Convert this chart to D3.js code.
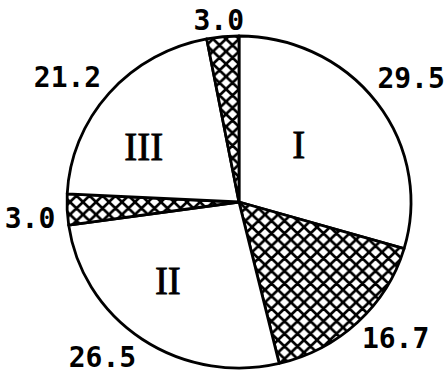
<!DOCTYPE html>
<html>
<head>
<meta charset="utf-8">
<script src="https://cdn.jsdelivr.net/npm/d3@7"></script>
<style>
  html, body { margin: 0; padding: 0; background: #fff; }
  svg { display: block; }
</style>
</head>
<body>
<div id="chart"></div>
<script>
// slice values, clockwise from 12 o'clock
const values = [29.5, 16.7, 26.5, 3.0, 21.2, 3.0];
const valueLabels = ['29.5', '16.7', '26.5', '3.0', '21.2', '3.0'];
const hatched = [false, true, false, true, false, true];
const romans = ['I', '', 'II', '', 'III', ''];

(function () {
  const W = 448, H = 374;
  const cx = 239, cy = 202, rx = 172, ry = 166;

  // hand nudges for the text, the original was laid out by eye
  const numNudge = [[2, -14], [10, 4], [-17, 4], [-5, 8], [-11, -5], [-1, 0]];
  const romNudge = [[-20, 1], [0, 0], [-15, -1], [0, 0], [-20, 8], [0, 0]];

  const svg = d3.select('#chart').append('svg')
    .attr('width', W).attr('height', H);
  svg.append('rect').attr('width', W).attr('height', H).attr('fill', '#fff');

  const defs = svg.append('defs');
  const p = 13;
  const pat = defs.append('pattern')
    .attr('id', 'xhatch')
    .attr('patternUnits', 'userSpaceOnUse')
    .attr('width', p).attr('height', p);
  pat.append('rect').attr('width', p).attr('height', p).attr('fill', '#fff');
  pat.append('path')
    .attr('d', `M0,0L${p},${p}M${p},0L0,${p}M-2,${p - 2}L2,${p + 2}M${p - 2},-2L${p + 2},2M-2,2L2,-2M${p - 2},${p + 2}L${p + 2},${p - 2}`)
    .attr('stroke', '#000').attr('stroke-width', 2.7);

  const pie = d3.pie().sort(null).value(d => d)
    .startAngle(0).endAngle(2 * Math.PI);
  const arcs = pie(values);

  const arc = d3.arc().innerRadius(0).outerRadius(rx);

  const g = svg.append('g')
    .attr('transform', `translate(${cx},${cy}) scale(1,${ry / rx})`);

  g.selectAll('path.slice')
    .data(arcs)
    .join('path')
    .attr('class', 'slice')
    .attr('d', arc)
    .attr('fill', (d, i) => hatched[i] ? 'url(#xhatch)' : '#fff')
    .attr('stroke', '#000')
    .attr('stroke-width', 2.8)
    .attr('stroke-linejoin', 'round')
    .attr('vector-effect', 'non-scaling-stroke');

  const mid = d => (d.startAngle + d.endAngle) / 2;

  // value labels just outside the rim
  const numSize = 28, numCap = 20;
  svg.selectAll('text.val')
    .data(arcs)
    .join('text')
    .attr('class', 'val')
    .attr('font-family', '"DejaVu Sans Mono", monospace')
    .attr('font-weight', 'bold')
    .attr('font-size', numSize)
    .attr('text-anchor', 'middle')
    .text((d, i) => valueLabels[i])
    .each(function (d, i) {
      const a = mid(d), s = Math.sin(a), c = -Math.cos(a);
      const w = this.getComputedTextLength();
      const px = cx + s * rx * 1.04 + s * w / 2 + numNudge[i][0];
      const py = cy + c * ry * 1.04 + c * numCap / 2 + numNudge[i][1];
      d3.select(this).attr('x', px).attr('y', py + numCap / 2);
    });

  // roman numerals inside the open slices
  const romCap = 26;
  svg.selectAll('text.rom')
    .data(arcs.filter((d, i) => romans[i]))
    .join('text')
    .attr('class', 'rom')
    .attr('font-family', '"Liberation Serif", "DejaVu Serif", serif')
    .attr('font-size', 39)
    .attr('text-anchor', 'middle')
    .attr('stroke', '#000').attr('stroke-width', 0.8)
    .text(d => romans[d.index])
    .attr('x', d => cx + Math.sin(mid(d)) * rx * 0.58 + romNudge[d.index][0])
    .attr('y', d => cy - Math.cos(mid(d)) * ry * 0.58 + romNudge[d.index][1] + romCap / 2);
})();
</script>
</body>
</html>
